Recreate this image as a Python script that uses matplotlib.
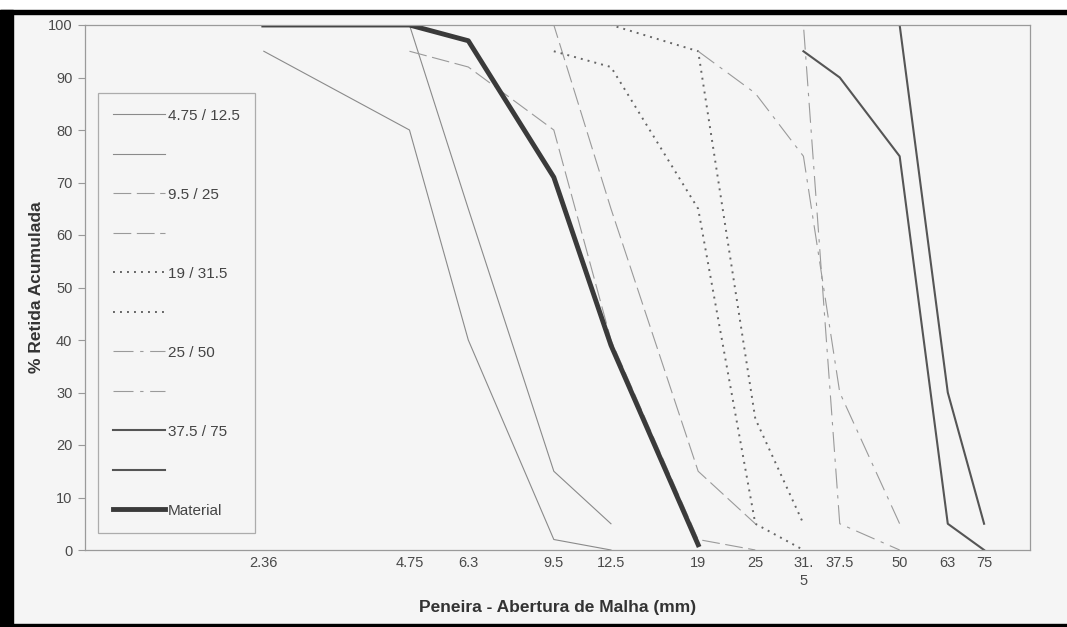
import matplotlib
matplotlib.use('Agg')
import matplotlib.pyplot as plt
from matplotlib.patches import Rectangle

plt.rcParams['font.family'] = ['Liberation Sans', 'DejaVu Sans']

# sieve openings (mm) and tick labels
ticks = [2.36, 4.75, 6.3, 9.5, 12.5, 19, 25, 31.5, 37.5, 50, 63, 75]
tick_labels = ['2.36', '4.75', '6.3', '9.5', '12.5', '19', '25', '31.\n5', '37.5', '50', '63', '75']

# limit curves, % retained (cumulative)
z1_x = [2.36, 4.75, 6.3, 9.5, 12.5]
z1_a = [95, 80, 40, 2, 0]
z1_b = [100, 100, 65, 15, 5]

z2_x = [4.75, 6.3, 9.5, 12.5, 19, 25]
z2_a = [95, 92, 80, 40, 2, 0]
z2_b = [100, 100, 100, 65, 15, 5]

z3_x = [9.5, 12.5, 19, 25, 31.5]
z3_a = [95, 92, 65, 5, 0]
z3_b = [100, 100, 95, 25, 5]

z4_x = [19, 25, 31.5, 37.5, 50]
z4_a = [95, 87, 75, 30, 5]
z4_b = [100, 100, 100, 5, 0]

z5_x = [31.5, 37.5, 50, 63, 75]
z5_a = [95, 90, 75, 5, 0]
z5_b = [100, 100, 100, 30, 5]

mat_x = [2.36, 4.75, 6.3, 9.5, 12.5, 19]
mat_y = [100, 100, 97, 71, 39, 1]

bg = '#f5f5f5'
fig = plt.figure(figsize=(10.67, 6.27), dpi=100, facecolor=bg)
ax = fig.add_axes([85 / 1067, 77 / 627, 945 / 1067, 525 / 627])
ax.set_facecolor(bg)

st1 = dict(color='#8a8a8a', lw=0.8)
st2 = dict(color='#9a9a9a', lw=0.8, dashes=(16, 5))
st3 = dict(color='#666666', lw=1.4, dashes=(1, 2.6))
st4 = dict(color='#9a9a9a', lw=0.8, dashes=(18, 6, 3, 6))
st5 = dict(color='#555555', lw=1.5)
st6 = dict(color='#3a3a3a', lw=3.5)

h = []
h += ax.plot(z1_x, z1_a, **st1)
h += ax.plot(z1_x, z1_b, **st1)
h += ax.plot(z2_x, z2_a, **st2)
h += ax.plot(z2_x, z2_b, **st2)
h += ax.plot(z3_x, z3_a, **st3)
h += ax.plot(z3_x, z3_b, **st3)
h += ax.plot(z4_x, z4_a, **st4)
h += ax.plot(z4_x, z4_b, **st4)
h += ax.plot(z5_x, z5_a, **st5)
h += ax.plot(z5_x, z5_b, **st5)
h += ax.plot(mat_x, mat_y, **st6)

ax.set_xscale('log')
ax.set_xlim(1, 93.5)
ax.set_ylim(0, 100)
ax.set_xticks(ticks)
ax.set_xticklabels(tick_labels)
ax.minorticks_off()
ax.set_yticks(range(0, 101, 10))
ax.tick_params(axis='x', length=0, pad=4, labelsize=10.5, colors='#4a4a4a')
ax.tick_params(axis='y', length=5, width=0.8, color='#999999', pad=4, labelsize=10.5, labelcolor='#4a4a4a')
for t in ax.get_xticklabels():
    t.set_linespacing(1.4)
for s in ax.spines.values():
    s.set_color('#9a9a9a')
    s.set_linewidth(0.9)

ax.set_xlabel('Peneira - Abertura de Malha (mm)', fontsize=12.5, fontweight='bold', color='#333333', labelpad=9)
ax.set_ylabel('% Retida Acumulada', fontsize=12.5, fontweight='bold', color='#333333', labelpad=3)

labels = ['4.75 / 12.5', ' ', '9.5 / 25', ' ', '19 / 31.5', ' ', '25 / 50', ' ', '37.5 / 75', ' ', 'Material']
leg = ax.legend(h, labels, loc='upper left', bbox_to_anchor=(0.0138, 0.870),
                fontsize=11, frameon=True, fancybox=False, labelspacing=1.67,
                handlelength=3.4, handletextpad=0.15, borderpad=1.0,
                borderaxespad=0)
leg.get_frame().set_edgecolor('#9a9a9a')
leg.get_frame().set_facecolor(bg)
leg.get_frame().set_linewidth(0.9)
for t in leg.get_texts():
    t.set_color('#444444')

# scanned page frame
fig.add_artist(Rectangle((0, 617 / 627), 1, 10 / 627, transform=fig.transFigure, color='white', zorder=-1))
fig.add_artist(Rectangle((0, 0), 13 / 1067, 617 / 627, transform=fig.transFigure, color='black'))
fig.add_artist(Rectangle((0, 613 / 627), 1, 4 / 627, transform=fig.transFigure, color='black'))
fig.add_artist(Rectangle((0, 0), 1, 3 / 627, transform=fig.transFigure, color='black'))

fig.savefig('out.png', dpi=100, facecolor=bg)
